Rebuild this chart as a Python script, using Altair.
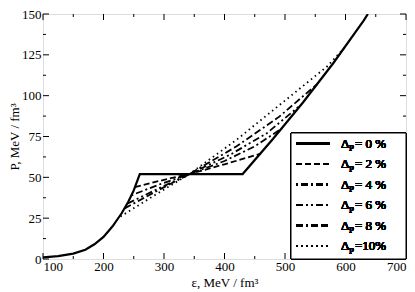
import altair as alt
import pandas as pd

FONT = "Liberation Serif"

# Delta_P = 0 % : hadronic branch, Maxwell plateau, quark branch
eps_0 = [100, 125, 150, 170, 185, 200, 215, 230, 241, 250, 260, 430, 480, 530, 580, 630, 637]
p_0 = [1, 1.8, 3.3, 5.7, 9, 13.5, 20, 28, 35, 42, 52, 52, 73.5, 96, 120, 146, 150]

# mixed-phase segments for the other Delta_P values
eps_2 = [252, 300, 342, 400, 460]
p_2 = [44, 48.5, 52, 58, 64.5]
eps_4 = [246, 295, 342, 400, 450, 495]
p_4 = [39, 46, 52, 60, 69, 80]
eps_6 = [240, 290, 342, 410, 470, 525]
p_6 = [34, 43, 52, 64, 77, 94]
eps_8 = [235, 290, 342, 420, 490, 553]
p_8 = [31, 42, 52, 69, 87, 107]
eps_10 = [228, 280, 342, 420, 500, 570, 600]
p_10 = [26, 38, 52, 73, 97, 118, 130]

series_names = ["0 %", "2 %", "4 %", "6 %", "8 %", "10%"]
series_eps = [eps_0, eps_2, eps_4, eps_6, eps_8, eps_10]
series_p = [p_0, p_2, p_4, p_6, p_8, p_10]
dashes = [[1, 0], [6, 3], [2, 3, 7, 3], [7, 3, 2, 3, 2, 3], [7, 3, 2, 3, 7, 3], [1.5, 3.5]]
widths = [2.2, 1.8, 1.8, 1.8, 1.8, 1.8]

x_major = [100, 200, 300, 400, 500, 600, 700]
x_minor = [150, 250, 350, 450, 550, 650]
y_major = [0, 25, 50, 75, 100, 125, 150]
y_minor = [12.5, 37.5, 62.5, 87.5, 112.5, 137.5]

W, H = 363, 245

xs = alt.Scale(domain=[100, 700], nice=False, zero=False)
ys = alt.Scale(domain=[0, 150], nice=False, zero=False)

x_axis = alt.Axis(values=x_major, ticks=False, domain=False, grid=False,
                  labelFont=FONT, labelFontSize=13, labelColor="black", labelPadding=1,
                  title="ε, MeV / fm³", titleFont=FONT, titleFontSize=13,
                  titleFontWeight="normal", titleColor="black", titlePadding=3)
y_axis = alt.Axis(values=y_major, ticks=False, domain=False, grid=False,
                  labelFont=FONT, labelFontSize=13, labelColor="black", labelPadding=2,
                  title="P, MeV / fm³", titleFont=FONT, titleFontSize=13,
                  titleFontWeight="normal", titleColor="black", titlePadding=0)

layers = []

base_df = pd.DataFrame({"eps": eps_0, "P": p_0})
layers.append(
    alt.Chart(base_df).mark_point(opacity=0).encode(
        x=alt.X("eps:Q", scale=xs, axis=x_axis),
        y=alt.Y("P:Q", scale=ys, axis=y_axis),
    )
)

for name, e, p, d, w in zip(series_names, series_eps, series_p, dashes, widths):
    df = pd.DataFrame({"eps": e, "P": p})
    mk = dict(color="black", strokeWidth=w, clip=True)
    if d != [1, 0]:
        mk["strokeDash"] = d
    layers.append(
        alt.Chart(df).mark_line(**mk).encode(
            x=alt.X("eps:Q", scale=xs), y=alt.Y("P:Q", scale=ys)
        )
    )

def xticks(vals, length):
    df = pd.DataFrame({"v": vals})
    b = alt.Chart(df).mark_rule(color="black", strokeWidth=1).encode(
        x=alt.X("v:Q", scale=xs), y=alt.value(H), y2=alt.value(H - length))
    t = alt.Chart(df).mark_rule(color="black", strokeWidth=1).encode(
        x=alt.X("v:Q", scale=xs), y=alt.value(0), y2=alt.value(length))
    return [b, t]

def yticks(vals, length):
    df = pd.DataFrame({"v": vals})
    l = alt.Chart(df).mark_rule(color="black", strokeWidth=1).encode(
        y=alt.Y("v:Q", scale=ys), x=alt.value(0), x2=alt.value(length))
    r = alt.Chart(df).mark_rule(color="black", strokeWidth=1).encode(
        y=alt.Y("v:Q", scale=ys), x=alt.value(W), x2=alt.value(W - length))
    return [l, r]

layers += xticks(x_major, 6) + xticks(x_minor, 3) + yticks(y_major, 6) + yticks(y_minor, 3)

LX0, LX1 = 248, W
LY0, LY1 = H - 126, H
layers.append(
    alt.Chart(base_df).mark_rect(fill="white", stroke="black", strokeWidth=1).encode(
        x=alt.value(LX0), x2=alt.value(LX1), y=alt.value(LY0), y2=alt.value(LY1)
    )
)
for i, (name, d, w) in enumerate(zip(series_names, dashes, widths)):
    yy = LY0 + 10.5 + i * 20.5
    mk = dict(color="black", strokeWidth=w)
    if d != [1, 0]:
        mk["strokeDash"] = d
    layers.append(alt.Chart(base_df).mark_rule(**mk).encode(
        x=alt.value(253), x2=alt.value(287), y=alt.value(yy)))
    layers.append(alt.Chart(base_df).mark_text(
        text="Δ", font=FONT, fontSize=13, fontWeight="normal", align="left",
        baseline="middle", color="black"
    ).encode(x=alt.value(298), y=alt.value(yy)))
    layers.append(alt.Chart(base_df).mark_text(
        text="P", font=FONT, fontSize=9, fontWeight="normal", align="left",
        baseline="middle", color="black"
    ).encode(x=alt.value(306), y=alt.value(yy + 4.5)))
    rest = "= " + name if name != "10%" else "=10%"
    layers.append(alt.Chart(base_df).mark_text(
        text=rest, font=FONT, fontSize=13, fontWeight="normal", align="left",
        baseline="middle", color="black"
    ).encode(x=alt.value(312), y=alt.value(yy)))

chart = alt.layer(*layers).properties(
    width=W, height=H, padding={"left": 0, "top": 0, "right": 0, "bottom": 0}
).configure_view(stroke="black", strokeWidth=1).configure(background="white", font=FONT)

chart.save("out.html", embed_options={"renderer": "svg", "actions": False})
